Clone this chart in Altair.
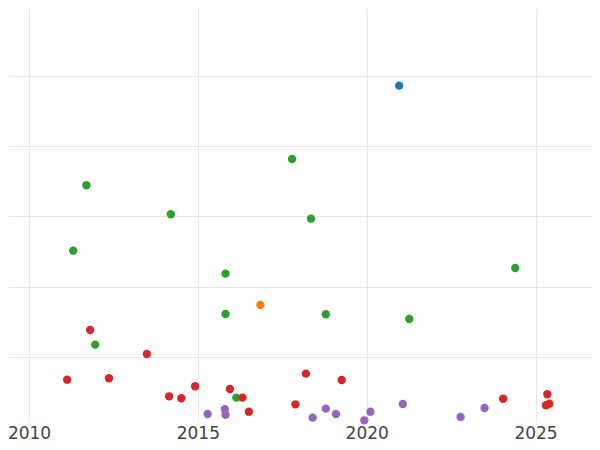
import altair as alt
import pandas as pd

categories = ["blue", "orange", "green", "red", "purple"]
colors = ["#1f77b4", "#ff7f0e", "#2ca02c", "#d62728", "#9467bd"]

blue_x = [2020.96]
blue_y = [48.64]

orange_x = [2016.85]
orange_y = [17.39]

green_x = [2011.70, 2014.20, 2017.79, 2018.35, 2011.31, 2015.82, 2015.82,
           2011.96, 2016.14, 2024.40, 2018.79, 2021.26]
green_y = [34.44, 30.31, 38.19, 29.68, 25.12, 21.85, 16.10,
           11.73, 4.18, 22.66, 16.06, 15.39]

red_x = [2011.81, 2013.49, 2011.13, 2012.37, 2014.92, 2014.15, 2014.51,
         2015.95, 2016.32, 2016.51, 2017.89, 2018.20, 2019.26, 2024.04,
         2025.35, 2025.31, 2025.41]
red_y = [13.82, 10.40, 6.74, 6.94, 5.80, 4.37, 4.09,
         5.42, 4.18, 2.18, 3.23, 7.60, 6.70, 4.03,
         4.66, 3.09, 3.32]

purple_x = [2015.29, 2015.80, 2015.82, 2018.40, 2018.79, 2019.09, 2019.93,
            2020.11, 2021.07, 2022.78, 2023.49]
purple_y = [1.85, 2.52, 1.75, 1.33, 2.61, 1.85, 0.95,
            2.18, 3.28, 1.43, 2.71]

x_ticks = [2010, 2015, 2020, 2025]
y_grid = [10, 20, 30, 40, 50]

rows = []
for cat, xs, ys in [("blue", blue_x, blue_y), ("orange", orange_x, orange_y),
                    ("green", green_x, green_y), ("red", red_x, red_y),
                    ("purple", purple_x, purple_y)]:
    for xv, yv in zip(xs, ys):
        rows.append({"year": xv, "value": yv, "group": cat})
df = pd.DataFrame(rows)

chart = alt.Chart(df).mark_circle(size=70, opacity=1).encode(
    x=alt.X("year:Q",
            scale=alt.Scale(domain=[2009.378, 2026.672], nice=False, zero=False),
            axis=alt.Axis(values=x_ticks, format="d", title=None, ticks=False,
                          domain=False, grid=True, gridColor="#e8e8e8",
                          labelFont="DejaVu Sans", labelFontSize=17,
                          labelColor="#444444", labelPadding=3)),
    y=alt.Y("value:Q",
            scale=alt.Scale(domain=[0.71, 59.7], nice=False, zero=False),
            axis=alt.Axis(values=y_grid, labels=False, ticks=False, domain=False,
                          title=None, grid=True, gridColor="#e8e8e8")),
    color=alt.Color("group:N", scale=alt.Scale(domain=categories, range=colors),
                    legend=None),
).properties(
    width=584,
    height=414,
    autosize=alt.AutoSizeParams(type="none"),
    padding={"left": 0, "top": 0, "right": 0, "bottom": 20},
).configure_view(stroke=None)

chart.save("out.html", embed_options={"renderer": "svg", "actions": False})
